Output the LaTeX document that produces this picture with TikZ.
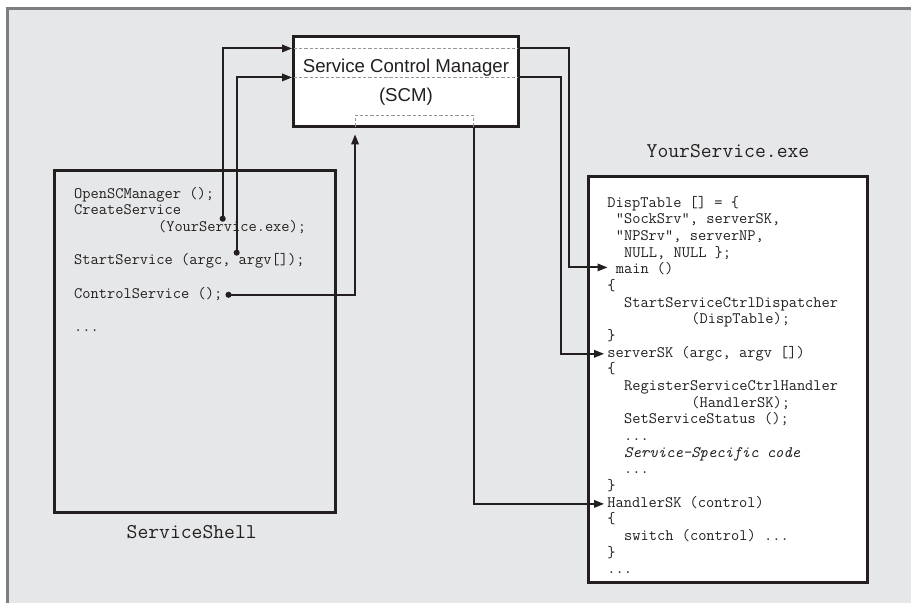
\documentclass[tikz,border=0pt]{standalone}
\usepackage{fontspec}
\setsansfont{Liberation Sans}
\usetikzlibrary{arrows.meta,positioning,calc}
\definecolor{pagegray}{RGB}{230,231,232}
\definecolor{framegray}{RGB}{125,126,129}
\definecolor{inkgray}{RGB}{35,31,32}
\definecolor{dashgray}{RGB}{150,150,150}
\newcommand{\moredots}{...}

\begin{document}
\begin{tikzpicture}[x=0.75pt,y=-0.75pt,
    box/.style={draw=inkgray,line width=2.2pt,inner sep=0pt},
    codeline/.style={anchor=west,inner sep=0pt,text height=7pt,text depth=2pt,
      text=inkgray,font=\ttfamily\fontsize{12}{14}\selectfont},
    boxtitle/.style={inner sep=0pt,text=inkgray,font=\ttfamily\fontsize{15.8}{18}\selectfont},
    link/.style={draw=inkgray,line width=1.5pt},
    pointer/.style={-{Triangle[length=7.5pt,width=5.5pt]}},
    guide/.style={draw=dashgray,line width=0.6pt,dash pattern=on 2.5pt off 1.5pt}]
      % Page frame
      \fill[pagegray] (7,8) rectangle (912,604);
      \draw[framegray,line width=1.9pt] (7.5,604) -- (7.5,8.7) -- (912,8.7);
      \useasboundingbox (0,0) rectangle (912,604);
      % Boxes
      \node[box,fill=white,minimum width=168.75pt,minimum height=67.5pt,align=center,
        text=inkgray,font=\sffamily\fontsize{14}{21.75}\selectfont] (scm) at (406.5,82)
        {Service Control Manager\\(SCM)};
      \node[box,minimum width=210.75pt,minimum height=256.5pt] (shell) at (195.5,342) {};
      \node[box,fill=white,minimum width=210pt,minimum height=304.5pt] (yoursvc) at (729,380) {};
      \node[boxtitle] (shellname) at (192,533) {ServiceShell};
      \node[boxtitle] (svcname) at (729,151) {YourService.exe};
      % Dashed guides in the SCM
      \draw[guide] ($(scm.north west)+(1.5,13)$) -- ($(scm.north east)+(-1.5,13)$);
      \draw[guide] ($(scm.north west)+(1.5,42)$) -- ($(scm.north east)+(-1.5,42)$);
      \draw[guide] ($(scm.south west)+(63,-1.5)$) |- ($(scm.south west)+(182,-13)$) -- ($(scm.south west)+(182,-1.5)$);
      % Shell code
      \foreach \n/\c/\t in {1/0/{OpenSCManager ();}, 2/0/{CreateService},
          3/10/{(YourService.exe);}, 5/0/{StartService (argc, argv[]);},
          7/0/{ControlService ();}, 9/0/{\moredots}}{
        \node[codeline] (s\n) at ({74+\c*8.4},{195+(\n-1)*16.7}) {\t};
      }
      % Service code
      \foreach \n/\c/\t in {1/0/{DispTable [] = \{}, 2/1/{"SockSrv", serverSK,},
          3/1/{"NPSrv", serverNP,}, 4/2/{NULL, NULL \};}, 5/1/{main ()}, 6/0/{\{},
          7/2/{StartServiceCtrlDispatcher}, 8/10/{(DispTable);}, 9/0/{\}},
          10/0/{serverSK (argc, argv [])}, 11/0/{\{}, 12/2/{RegisterServiceCtrlHandler},
          13/10/{(HandlerSK);}, 14/2/{SetServiceStatus ();}, 15/2/{\moredots},
          16/2/{\textit{Service-Specific code}}, 17/2/{\moredots}, 18/0/{\}},
          19/0/{HandlerSK (control)}, 20/0/{\{}, 21/2/{switch (control) \moredots},
          22/0/{\}}, 23/0/{\moredots}}{
        \node[codeline] (r\n) at ({608+\c*8.4},{204+(\n-1)*16.7}) {\t};
      }
      % Calls into the SCM
      \coordinate (d1) at (223,219);
      \coordinate (d2) at (237,253);
      \coordinate (d3) at ($(s7.east)+(6,0)$);
      \draw[link,pointer] (d1) |- ($(scm.north west)+(0,13)$);
      \draw[link,pointer] (d2) |- ($(scm.north west)+(0,42)$);
      \draw[link,pointer] (d3) -| ($(scm.south west)+(63,6)$);
      \foreach \d in {d1,d2,d3}{
        \fill[inkgray] (\d) circle (2.3pt);
      }
      % Calls from the SCM
      \draw[link,pointer] ($(scm.north east)+(0,13)$) -- ++(49,0) |- ($(r5.west)+(-8,-3)$);
      \draw[link,pointer] ($(scm.north east)+(0,42)$) -- ++(41,0) |- ($(r10.west)+(-3,0)$);
      \draw[link,pointer] ($(scm.south west)+(182,0)$) |- ($(r19.west)+(-3,0)$);
    \end{tikzpicture}
\end{document}
